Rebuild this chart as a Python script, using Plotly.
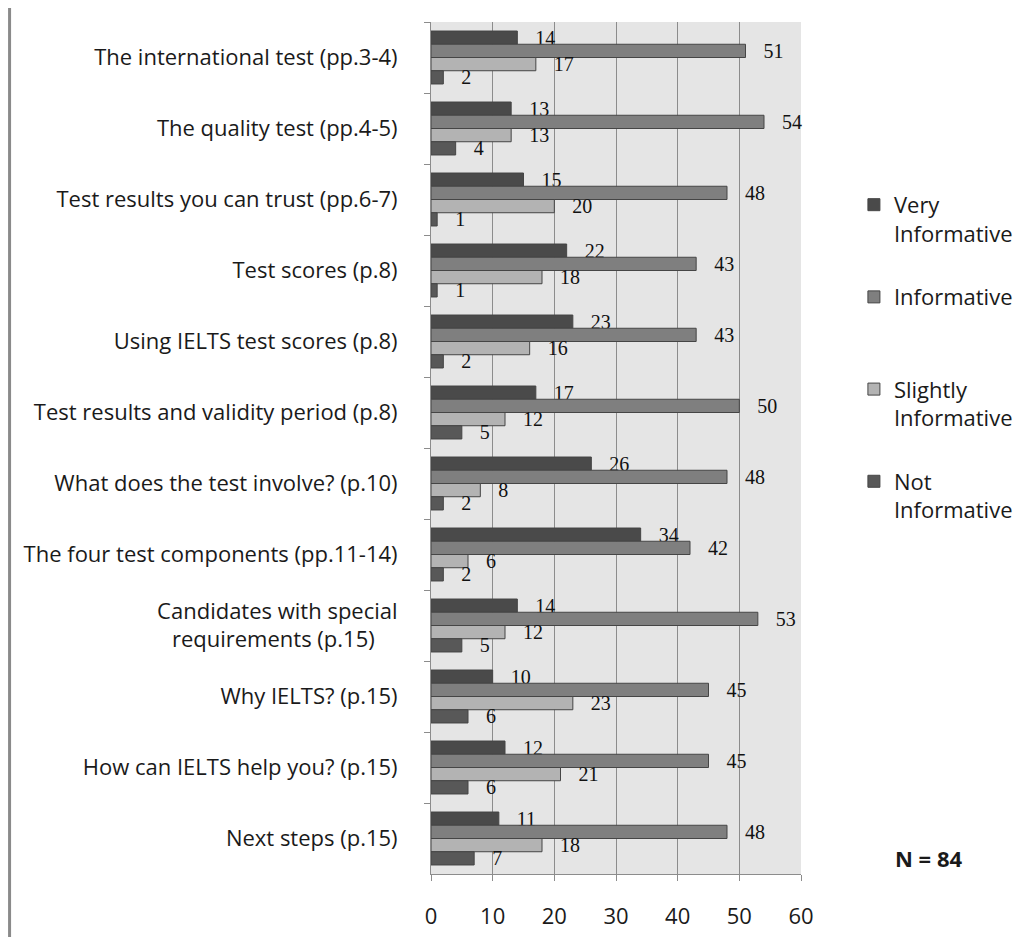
import plotly.graph_objects as go

categories = [
    "The international test (pp.3-4)",
    "The quality test (pp.4-5)",
    "Test results you can trust (pp.6-7)",
    "Test scores (p.8)",
    "Using IELTS test scores (p.8)",
    "Test results and validity period (p.8)",
    "What does the test involve? (p.10)",
    "The four test components (pp.11-14)",
    "Candidates with special<br>requirements (p.15)\u00a0\u00a0\u00a0\u00a0",
    "Why IELTS? (p.15)",
    "How can IELTS help you? (p.15)",
    "Next steps (p.15)",
]

very_informative = [14, 13, 15, 22, 23, 17, 26, 34, 14, 10, 12, 11]
informative = [51, 54, 48, 43, 43, 50, 48, 42, 53, 45, 45, 48]
slightly_informative = [17, 13, 20, 18, 16, 12, 8, 6, 12, 23, 21, 18]
not_informative = [2, 4, 1, 1, 2, 5, 2, 2, 5, 6, 6, 7]

series = [
    ("Very<br>Informative", very_informative, "#4a4a4a"),
    ("Informative<br>\u00a0", informative, "#7f7f7f"),
    ("Slightly<br>Informative", slightly_informative, "#b3b3b3"),
    ("Not<br>Informative", not_informative, "#585858"),
]

SANS = "Open Sans"
TXT = "#1a1a1a"

fig = go.Figure()
for i, (name, vals, color) in enumerate(series):
    fig.add_trace(
        go.Bar(
            y=categories,
            x=vals,
            orientation="h",
            name=name,
            legendgroup=f"g{i}",
            marker=dict(color=color, line=dict(color="#454545", width=1)),
            text=vals,
            texttemplate="\u00a0\u00a0\u00a0%{x}",
            textposition="outside",
            constraintext="none",
            cliponaxis=False,
            textfont=dict(family="Liberation Serif", size=20, color="#111111"),
        )
    )

# page body adds 8px on the left/top, so the figure is drawn 8px smaller
fig.update_layout(
    width=1024,
    height=929,
    barmode="group",
    bargap=0.254,
    bargroupgap=0,
    plot_bgcolor="#e5e5e5",
    paper_bgcolor="white",
    margin=dict(l=423, r=231, t=14, b=63, autoexpand=False),
    font=dict(family=SANS, size=22, color=TXT),
    showlegend=True,
    legend=dict(
        x=1.143,
        y=0.81,
        xanchor="left",
        yanchor="top",
        traceorder="grouped",
        tracegroupgap=32,
        valign="top",
        font=dict(family=SANS, size=22, color=TXT),
        bgcolor="rgba(0,0,0,0)",
    ),
    annotations=[
        dict(
            text="<b>N = 84</b>",
            xref="paper",
            yref="paper",
            x=1.249,
            y=0.019,
            xanchor="left",
            yanchor="middle",
            showarrow=False,
            font=dict(family=SANS, size=22, color=TXT),
        )
    ],
    shapes=[
        dict(
            type="line",
            xref="paper",
            yref="paper",
            x0=-1.139,
            x1=-1.139,
            y0=-0.08,
            y1=1.02,
            line=dict(color="#8a8a8a", width=3),
        )
    ],
)

fig.update_xaxes(
    range=[0, 60],
    dtick=10,
    automargin=False,
    showgrid=True,
    gridcolor="#8c8c8c",
    gridwidth=1,
    zeroline=False,
    showline=True,
    linecolor="#8c8c8c",
    ticks="outside",
    ticklen=6,
    tickcolor="#8c8c8c",
    ticklabelstandoff=17,
    tickfont=dict(family=SANS, size=22, color=TXT),
)
fig.update_yaxes(
    autorange="reversed",
    automargin=False,
    tickson="boundaries",
    ticks="outside",
    ticklen=6,
    tickcolor="#8c8c8c",
    showline=True,
    linecolor="#8c8c8c",
    showgrid=False,
    ticklabelstandoff=28,
    tickfont=dict(family=SANS, size=22, color=TXT),
)

fig.write_html("out.html")
